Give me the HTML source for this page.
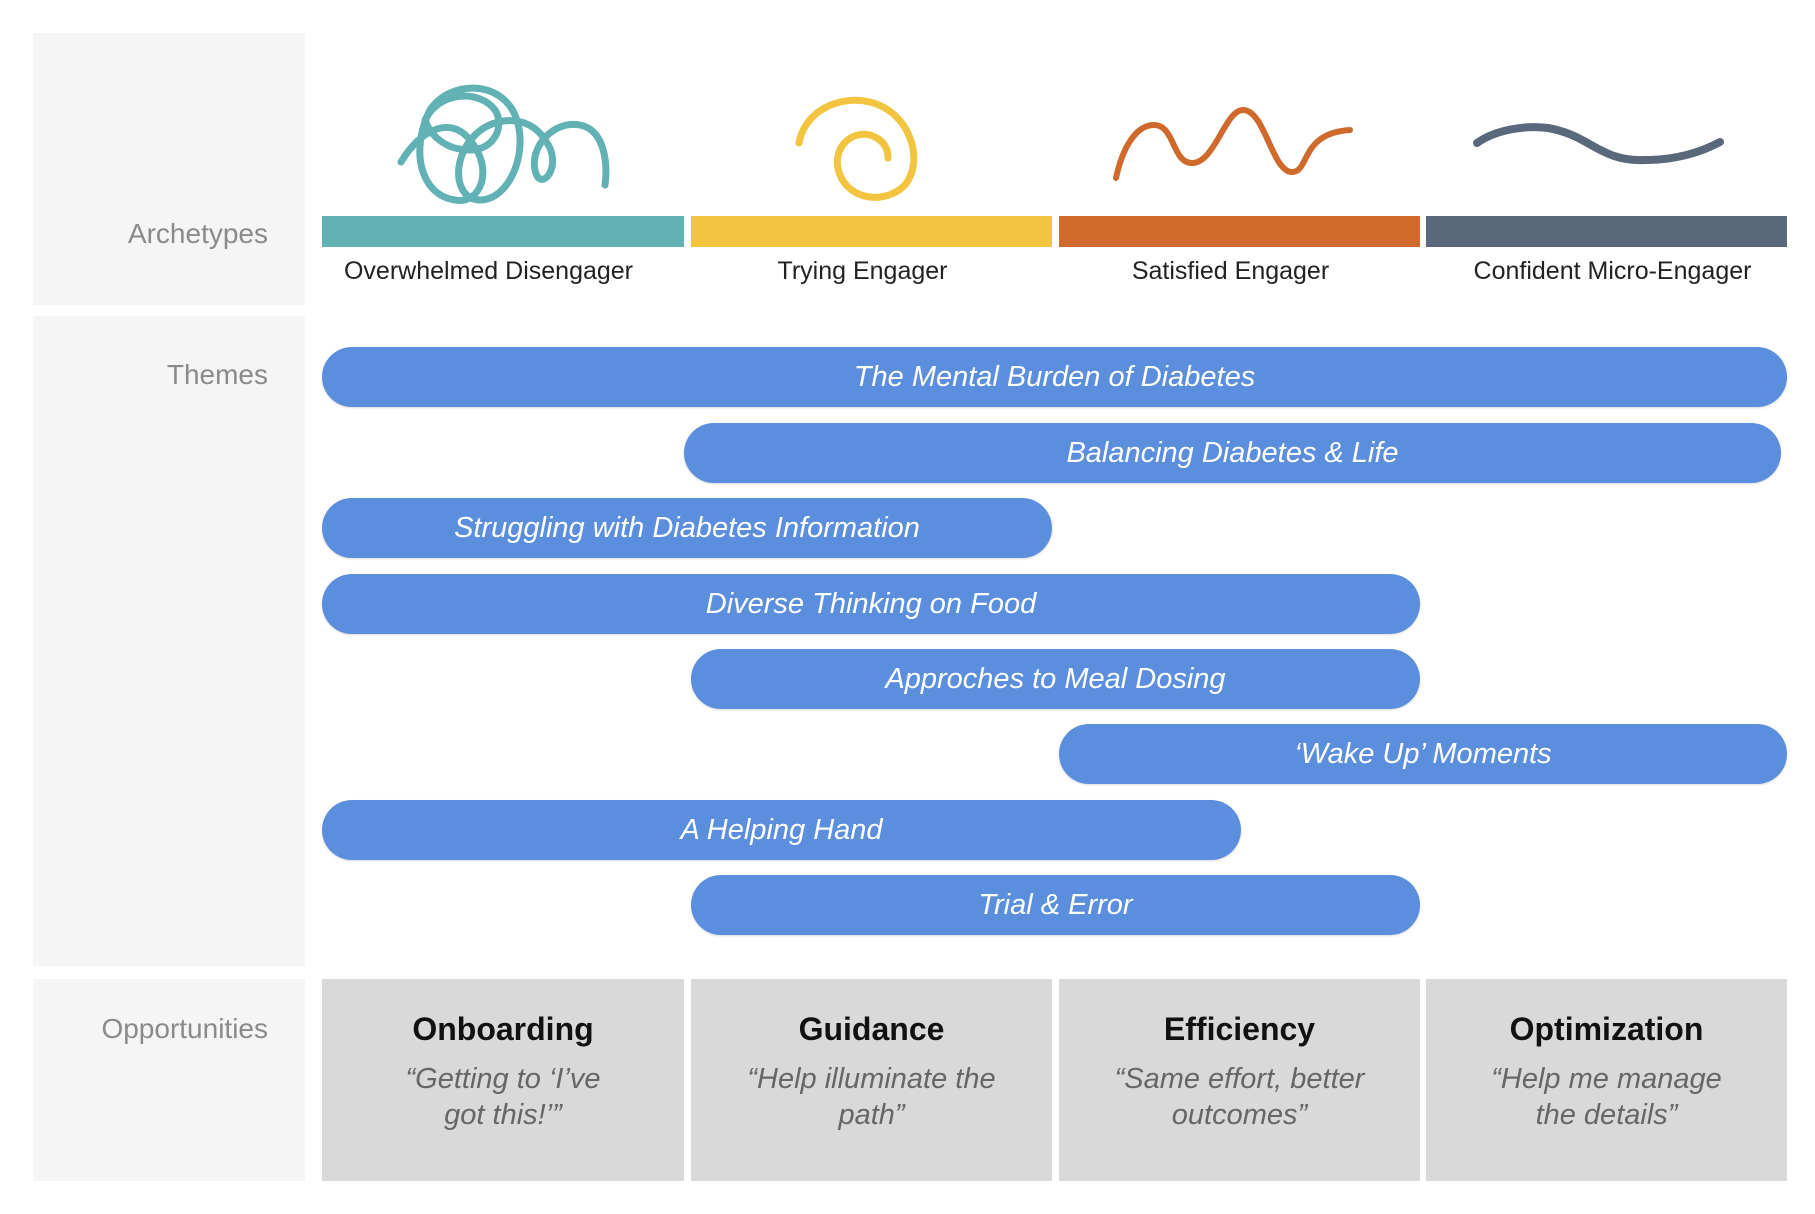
<!DOCTYPE html>
<html><head><meta charset="utf-8"><style>
body{margin:0;width:1815px;height:1214px;background:#fff;position:relative;font-family:"Liberation Sans",sans-serif;overflow:hidden}
.p{position:absolute;background:#f5f5f5}
.lab{position:absolute;right:1547px;color:#8a8a8a;font-size:28px;line-height:32px;text-align:right;white-space:nowrap}
.bar{position:absolute;top:216px;height:31px}
.al{position:absolute;top:255px;height:32px;font-size:25px;line-height:32px;text-align:center;color:#222;width:361px}
.pill{position:absolute;height:60px;border-radius:30px;background:#5b8fdd;color:#fff;font-style:italic;font-size:29px;line-height:60px;text-align:center;box-shadow:0 1px 2px rgba(0,0,0,.15)}
.op{position:absolute;top:979px;height:202px;width:361px;background:#d9d9d9;text-align:center}
.op b{display:block;margin-top:32px;font-size:32px;line-height:36px;color:#111}
.op i{display:block;margin-top:14px;font-size:29px;line-height:36px;color:#666}
</style></head><body>
<div class="p" style="left:33px;top:33px;width:272px;height:272px"></div>
<div class="p" style="left:33px;top:316px;width:272px;height:650px"></div>
<div class="p" style="left:33px;top:979px;width:272px;height:202px"></div>
<div class="lab" style="top:218px">Archetypes</div>
<div class="lab" style="top:359px">Themes</div>
<div class="lab" style="top:1013px">Opportunities</div>

<svg style="position:absolute;left:0;top:0" width="1815" height="260">
<g fill="none" stroke="#62b2b5" stroke-width="7" stroke-linecap="round">
<path d="M401,162 C420,130 450,115 470,140 C495,170 480,205 455,200 C420,195 410,150 430,110 C450,80 500,80 515,115 C530,150 510,200 480,200 C455,200 450,160 475,135 C495,115 530,115 545,140 C565,165 540,195 535,170 C530,145 555,120 580,125 C605,130 608,165 605,185"/>
<path d="M425,120 C440,90 480,90 495,110 C505,125 495,150 470,150 C445,150 430,135 425,120"/>
</g>
<path d="M799,143 C805,110 840,95 870,102 C910,112 925,160 905,185 C885,205 850,200 840,175 C830,150 850,130 870,135 C885,140 888,150 888,158" fill="none" stroke="#f2c440" stroke-width="7" stroke-linecap="round"/>
<path d="M1116,178 C1122,150 1135,125 1154,125 C1175,125 1172,163 1192,163 C1215,163 1225,110 1243,110 C1265,110 1272,172 1292,172 C1310,172 1300,133 1350,130" fill="none" stroke="#d0692c" stroke-width="6" stroke-linecap="round"/>
<path d="M1477,143 C1495,130 1525,125 1548,128 C1590,135 1600,162 1645,160 C1680,160 1705,150 1720,142" fill="none" stroke="#5a687c" stroke-width="8" stroke-linecap="round"/>
<rect x="322" y="216" width="362" height="31" fill="#62b2b5"/>
<rect x="691" y="216" width="361" height="31" fill="#f2c440"/>
<rect x="1059" y="216" width="361" height="31" fill="#d0692c"/>
<rect x="1426" y="216" width="361" height="31" fill="#5a687c"/>
</svg>
<div class="al" style="left:308px">Overwhelmed Disengager</div>
<div class="al" style="left:682px">Trying Engager</div>
<div class="al" style="left:1050px">Satisfied Engager</div>
<div class="al" style="left:1432px">Confident Micro-Engager</div>

<div class="pill" style="left:322px;width:1465px;top:347px">The Mental Burden of Diabetes</div>
<div class="pill" style="left:684px;width:1097px;top:423px">Balancing Diabetes &amp; Life</div>
<div class="pill" style="left:322px;width:730px;top:498px">Struggling with Diabetes Information</div>
<div class="pill" style="left:322px;width:1098px;top:574px">Diverse Thinking on Food</div>
<div class="pill" style="left:691px;width:729px;top:649px">Approches to Meal Dosing</div>
<div class="pill" style="left:1059px;width:728px;top:724px">‘Wake Up’ Moments</div>
<div class="pill" style="left:322px;width:919px;top:800px">A Helping Hand</div>
<div class="pill" style="left:691px;width:729px;top:875px">Trial &amp; Error</div>

<div class="op" style="left:322px;width:362px"><b>Onboarding</b><i>“Getting to ‘I’ve<br>got this!’”</i></div>
<div class="op" style="left:691px"><b>Guidance</b><i>“Help illuminate the<br>path”</i></div>
<div class="op" style="left:1059px"><b>Efficiency</b><i>“Same effort, better<br>outcomes”</i></div>
<div class="op" style="left:1426px"><b>Optimization</b><i>“Help me manage<br>the details”</i></div>
</body></html>
